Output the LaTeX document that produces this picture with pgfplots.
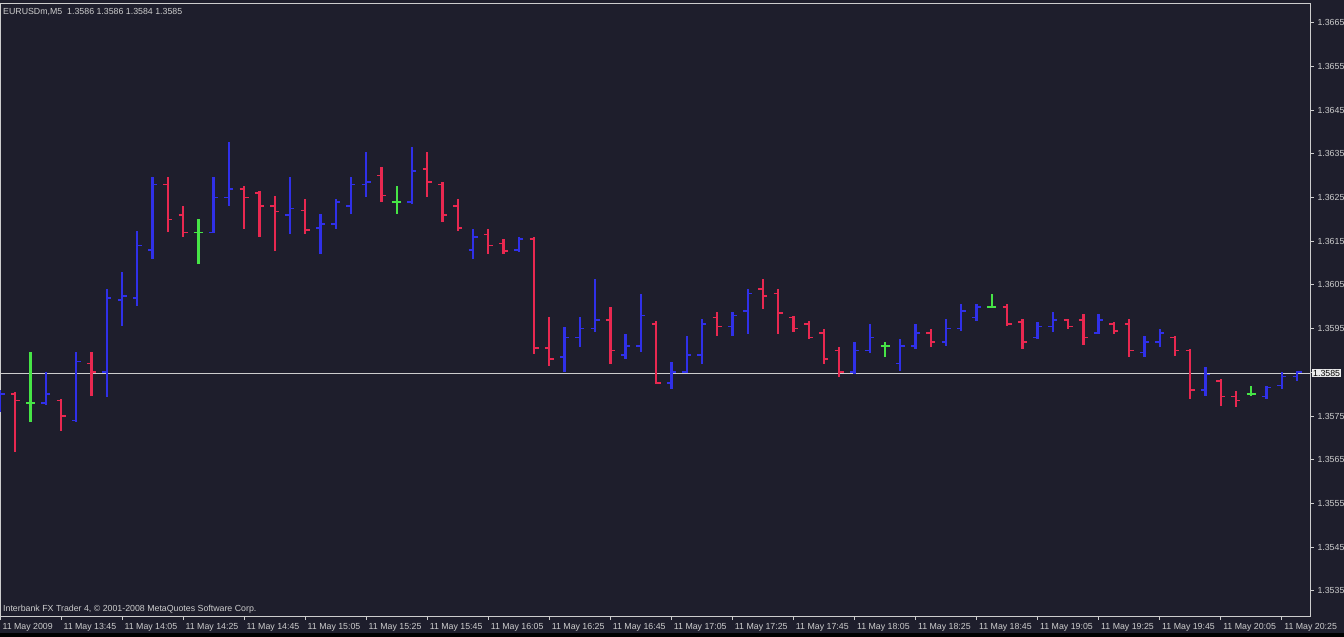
\documentclass[border=0pt]{standalone}
\usepackage{fontspec}
\setmainfont{Liberation Sans}
\usepackage{pgfplots}
\usepackage{pgfplotstable}
\pgfplotsset{compat=1.18}

\definecolor{bg}{RGB}{30,30,44}
\definecolor{upbar}{RGB}{48,48,232}
\definecolor{dnbar}{RGB}{232,40,80}
\definecolor{doji}{RGB}{70,228,70}
\definecolor{fg}{RGB}{205,205,205}

% open tick to the left, close tick to the right
\pgfdeclareplotmark{otick}{\pgfpathmoveto{\pgfqpoint{-4.5pt}{0pt}}\pgfpathlineto{\pgfqpoint{0pt}{0pt}}\pgfusepathqstroke}
\pgfdeclareplotmark{ctick}{\pgfpathmoveto{\pgfqpoint{0pt}{0pt}}\pgfpathlineto{\pgfqpoint{4.5pt}{0pt}}\pgfusepathqstroke}

\pgfplotsset{
  ohlc/.style={only marks, mark=ctick, mark options={line width=1.6pt},
    error bars/.cd, y dir=both, y explicit, error mark=none,
    error bar style={line width=2.3pt}},
  otk/.style={only marks, mark=otick, mark options={line width=1.6pt}},
}

% x = bar number (M5), o h l c
\pgfplotstableread{
x o h l c
0 1.35770 1.35810 1.35760 1.35800
3 1.35780 1.35850 1.35775 1.35800
5 1.35740 1.35897 1.35737 1.35875
7 1.35850 1.36040 1.35794 1.36020
8 1.36015 1.36079 1.35956 1.36025
9 1.36020 1.36173 1.36002 1.36140
10 1.36130 1.36298 1.36109 1.36280
14 1.36170 1.36298 1.36168 1.36250
15 1.36250 1.36376 1.36230 1.36270
19 1.36210 1.36296 1.36166 1.36225
21 1.36180 1.36212 1.36120 1.36190
22 1.36190 1.36246 1.36177 1.36240
23 1.36230 1.36298 1.36212 1.36280
24 1.36280 1.36353 1.36250 1.36285
27 1.36240 1.36365 1.36234 1.36310
31 1.36130 1.36177 1.36109 1.36160
34 1.36130 1.36160 1.36125 1.36155
37 1.35885 1.35954 1.35850 1.35930
38 1.35930 1.35976 1.35908 1.35950
39 1.35950 1.36063 1.35942 1.35970
41 1.35890 1.35938 1.35880 1.35910
42 1.35910 1.36029 1.35897 1.35980
44 1.35825 1.35874 1.35812 1.35850
45 1.35850 1.35933 1.35848 1.35890
46 1.35890 1.35972 1.35869 1.35960
48 1.35955 1.35988 1.35933 1.35980
49 1.35990 1.36040 1.35938 1.36030
56 1.35850 1.35919 1.35846 1.35900
57 1.35900 1.35960 1.35895 1.35930
59 1.35870 1.35926 1.35853 1.35910
60 1.35910 1.35960 1.35903 1.35940
62 1.35920 1.35972 1.35910 1.35950
63 1.35950 1.36006 1.35945 1.35990
64 1.35975 1.36006 1.35967 1.36000
68 1.35930 1.35965 1.35926 1.35955
69 1.35955 1.35988 1.35942 1.35970
72 1.35940 1.35983 1.35938 1.35970
75 1.35895 1.35933 1.35885 1.35920
76 1.35920 1.35950 1.35908 1.35940
79 1.35810 1.35862 1.35796 1.35845
83 1.35795 1.35819 1.35789 1.35815
84 1.35820 1.35850 1.35812 1.35840
85 1.35840 1.35853 1.35830 1.35850
}\upbars

\pgfplotstableread{
x o h l c
1 1.35800 1.35805 1.35668 1.35785
4 1.35785 1.35790 1.35716 1.35750
6 1.35870 1.35897 1.35796 1.35850
11 1.36280 1.36298 1.36170 1.36200
12 1.36210 1.36230 1.36160 1.36170
16 1.36270 1.36276 1.36177 1.36250
17 1.36260 1.36264 1.36160 1.36230
18 1.36230 1.36253 1.36127 1.36218
20 1.36220 1.36246 1.36166 1.36175
25 1.36300 1.36320 1.36240 1.36255
28 1.36315 1.36353 1.36250 1.36285
29 1.36280 1.36285 1.36193 1.36210
30 1.36230 1.36246 1.36173 1.36180
32 1.36165 1.36177 1.36120 1.36140
33 1.36145 1.36155 1.36120 1.36128
35 1.36155 1.36160 1.35892 1.35905
36 1.35905 1.35976 1.35865 1.35880
40 1.35970 1.35999 1.35869 1.35900
43 1.35960 1.35967 1.35824 1.35825
47 1.35975 1.35988 1.35933 1.35955
50 1.36040 1.36063 1.35995 1.36025
51 1.36030 1.36040 1.35938 1.35985
52 1.35975 1.35979 1.35942 1.35950
53 1.35960 1.35967 1.35926 1.35930
54 1.35940 1.35949 1.35869 1.35880
55 1.35900 1.35908 1.35840 1.35850
61 1.35940 1.35950 1.35908 1.35920
66 1.36000 1.36006 1.35956 1.35960
67 1.35965 1.35972 1.35903 1.35920
70 1.35970 1.35972 1.35950 1.35955
71 1.35970 1.35983 1.35912 1.35930
73 1.35960 1.35965 1.35938 1.35945
74 1.35960 1.35972 1.35885 1.35900
77 1.35930 1.35933 1.35887 1.35900
78 1.35900 1.35903 1.35789 1.35810
80 1.35830 1.35835 1.35773 1.35795
81 1.35795 1.35808 1.35771 1.35785
}\dnbars

\pgfplotstableread{
x o h l c
2 1.35780 1.35897 1.35737 1.35780
13 1.36170 1.36200 1.36097 1.36170
26 1.36240 1.36276 1.36212 1.36240
58 1.35910 1.35919 1.35885 1.35910
65 1.36000 1.36029 1.35998 1.36000
82 1.35800 1.35819 1.35796 1.35800
}\dojibars

\begin{document}
\begin{tikzpicture}[x=1pt,y=1pt]
\fill[bg] (0,0) rectangle (1344,637);
\fill[black] (0,0) rectangle (1344,4);
\begin{axis}[
    at={(0pt,21pt)}, anchor=south west,
    scale only axis, width=1310pt, height=613pt,
    xmin=0, xmax=85.85,
    ymin=1.352923, ymax=1.366951,
    axis background/.style={fill=bg},
    axis line style={fg, line width=0.8pt},
    tick style={fg, line width=0.8pt},
    tick align=outside, major tick length=4pt,
    xtick pos=left, ytick pos=right, yticklabel pos=right,
    ticklabel style={font=\fontsize{8.8}{10}\selectfont, text=fg},
    xtick={0,4,...,84},
    xticklabels={11 May 2009,11 May 13:45,11 May 14:05,11 May 14:25,11 May 14:45,11 May 15:05,11 May 15:25,11 May 15:45,11 May 16:05,11 May 16:25,11 May 16:45,11 May 17:05,11 May 17:25,11 May 17:45,11 May 18:05,11 May 18:25,11 May 18:45,11 May 19:05,11 May 19:25,11 May 19:45,11 May 20:05,11 May 20:25},
    xticklabel style={anchor=north west, xshift=-1pt},
    ytick={1.3535,1.3545,1.3555,1.3565,1.3575,1.3585,1.3595,1.3605,1.3615,1.3625,1.3635,1.3645,1.3655,1.3665},
    yticklabels={1.3535,1.3545,1.3555,1.3565,1.3575,{},1.3595,1.3605,1.3615,1.3625,1.3635,1.3645,1.3655,1.3665},
    yticklabel style={anchor=west},
  ]
  \addplot[fg, line width=0.8pt] coordinates {(0,1.35848) (85.85,1.35848)};
  \addplot[upbar, ohlc] table[x=x, y=c, y error plus expr=\thisrow{h}-\thisrow{c}, y error minus expr=\thisrow{c}-\thisrow{l}] {\upbars};
  \addplot[upbar, otk] table[x=x, y=o] {\upbars};
  \addplot[dnbar, ohlc] table[x=x, y=c, y error plus expr=\thisrow{h}-\thisrow{c}, y error minus expr=\thisrow{c}-\thisrow{l}] {\dnbars};
  \addplot[dnbar, otk] table[x=x, y=o] {\dnbars};
  \addplot[doji, ohlc] table[x=x, y=c, y error plus expr=\thisrow{h}-\thisrow{c}, y error minus expr=\thisrow{c}-\thisrow{l}] {\dojibars};
  \addplot[doji, otk] table[x=x, y=o] {\dojibars};
  \coordinate (bid) at (axis cs:85.85,1.35848);
\end{axis}
\node[anchor=west, fill=white!92!black, text=black, inner sep=1pt, font=\fontsize{8.8}{10}\selectfont, xshift=2pt] at (bid) {1.3585};
\node[anchor=west, text=fg, inner sep=0pt, font=\fontsize{8.8}{10}\selectfont] at (3,625) {EURUSDm,M5\ \ 1.3586 1.3586 1.3584 1.3585};
\node[anchor=west, text=fg, inner sep=0pt, font=\fontsize{8.8}{10}\selectfont] at (3,28) {Interbank FX Trader 4, © 2001-2008 MetaQuotes Software Corp.};
\pgfresetboundingbox
\useasboundingbox (0,0) rectangle (1344,637);
\end{tikzpicture}
\end{document}
